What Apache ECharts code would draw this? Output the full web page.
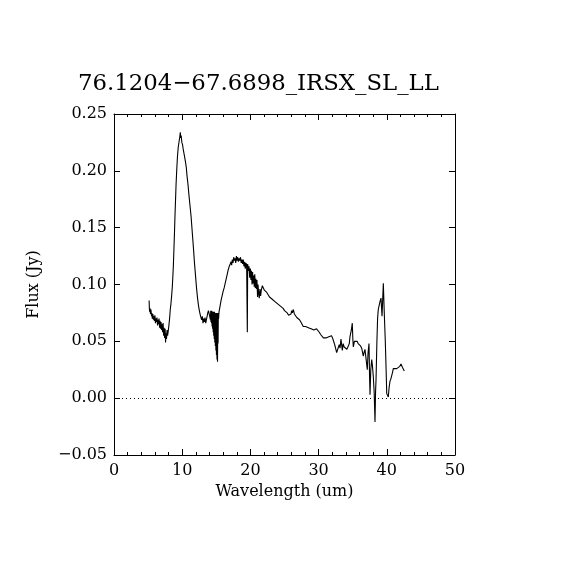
<!DOCTYPE html>
<html>
<head>
<meta charset="utf-8">
<script src="https://cdn.jsdelivr.net/npm/echarts@6/dist/echarts.min.js"></script>
<style>html,body{margin:0;padding:0;background:#fff}#c{width:570px;height:570px}</style>
</head>
<body>
<div id="c"></div>
<script>
var titleText = '76.1204\u221267.6898_IRSX_SL_LL';
var xName = 'Wavelength (um)';
var yName = 'Flux (Jy)';

var wavelength = [
5.15,5.18,5.22,5.28,5.35,5.42,5.50,5.56,5.62,5.70,5.78,5.85,5.92,6.00,6.08,6.15,6.22,6.30,6.38,6.45,
6.52,6.60,6.68,6.75,6.82,6.90,6.98,7.05,7.12,7.20,7.28,7.35,7.42,7.50,7.56,7.62,7.70,7.78,7.86,7.95,
8.05,8.15,8.25,8.35,8.45,8.55,8.62,8.70,8.78,8.86,8.94,9.02,9.10,9.20,9.30,9.42,9.55,9.65,9.72,9.78,
9.85,9.95,10.05,10.15,10.30,10.45,10.60,10.70,10.85,11.00,11.15,11.30,11.40,11.50,11.65,11.80,11.95,12.10,12.25,12.40,
12.55,12.70,12.85,12.95,13.05,13.15,13.25,13.35,13.45,13.55,13.65,13.75,13.85,13.95,14.05,
14.10,14.14,14.18,14.22,14.26,14.30,14.34,14.38,14.42,14.46,14.50,14.54,14.58,14.62,14.66,14.70,14.74,14.78,14.82,14.86,
14.90,14.94,14.98,15.02,15.06,15.10,15.14,15.18,15.22,15.26,15.30,15.34,15.40,
15.55,15.70,15.85,16.00,16.15,16.30,16.45,16.60,16.75,16.90,17.05,17.15,17.25,17.35,17.45,17.55,17.65,17.75,17.85,17.95,
18.05,18.15,18.25,18.35,18.45,18.55,18.65,18.75,18.85,18.95,19.05,19.15,19.25,19.35,19.45,19.55,19.60,19.70,19.80,19.90,
20.00,20.08,20.16,20.24,20.32,20.40,20.48,20.56,20.64,20.72,20.80,20.88,20.96,21.05,21.12,21.20,21.30,21.40,21.50,21.60,
21.75,21.90,22.05,22.20,22.40,22.60,22.80,23.00,23.20,23.40,23.60,23.80,24.00,24.20,24.40,24.60,24.80,25.00,25.20,25.40,
25.60,25.80,25.95,26.05,26.15,26.30,26.45,26.60,26.80,27.00,27.20,27.40,27.60,27.75,27.90,28.10,28.30,28.50,28.70,28.90,
29.10,29.30,29.50,29.70,29.90,30.10,30.30,30.50,30.70,30.90,31.10,31.30,31.50,31.70,31.90,32.10,32.26,32.45,32.65,32.80,
33.03,33.15,33.28,33.40,33.48,33.60,33.75,33.87,34.00,34.15,34.35,34.50,34.60,34.80,34.94,35.02,35.09,35.25,35.48,35.65,
35.80,35.97,36.15,36.32,36.45,36.55,36.70,36.80,36.95,37.14,37.25,37.39,37.47,37.54,37.65,37.79,37.90,38.02,38.15,38.27,
38.35,38.42,38.55,38.65,38.75,38.88,39.00,39.15,39.30,39.49,39.63,39.78,39.90,39.99,40.10,40.22,40.35,40.47,40.60,40.72,
40.85,40.95,41.20,41.45,41.69,41.90,42.08,42.30,42.57
];

var flux = [
0.086,0.080,0.076,0.079,0.074,0.078,0.072,0.075,0.070,0.074,0.069,0.072,0.068,0.073,0.066,0.070,0.067,0.071,0.064,0.069,
0.065,0.070,0.062,0.068,0.061,0.067,0.060,0.065,0.058,0.066,0.055,0.062,0.053,0.061,0.049,0.057,0.052,0.060,0.055,0.059,
0.064,0.070,0.078,0.083,0.090,0.098,0.106,0.116,0.130,0.144,0.160,0.174,0.188,0.201,0.212,0.221,0.226,0.230,0.234,0.229,
0.231,0.225,0.223,0.219,0.214,0.209,0.203,0.196,0.188,0.178,0.169,0.160,0.152,0.144,0.132,0.119,0.108,0.097,0.088,0.081,
0.076,0.072,0.069,0.072,0.066,0.070,0.067,0.071,0.066,0.069,0.072,0.075,0.077,0.076,0.078,
0.076,0.069,0.077,0.067,0.076,0.066,0.077,0.063,0.076,0.061,0.075,0.058,0.076,0.055,0.075,0.052,0.076,0.049,0.075,0.046,
0.074,0.042,0.075,0.038,0.074,0.034,0.075,0.032,0.074,0.048,0.075,0.070,0.076,
0.081,0.086,0.090,0.094,0.097,0.101,0.105,0.109,0.113,0.116,0.118,0.120,0.117,0.122,0.119,0.124,0.121,0.123,0.119,0.125,
0.121,0.124,0.120,0.123,0.121,0.124,0.119,0.122,0.118,0.122,0.116,0.120,0.114,0.119,0.117,0.058,0.118,0.112,0.116,0.106,
0.114,0.104,0.112,0.100,0.111,0.101,0.108,0.098,0.109,0.097,0.105,0.096,0.104,0.089,0.100,0.093,0.088,0.096,0.090,0.095,
0.099,0.097,0.095,0.094,0.093,0.091,0.089,0.088,0.087,0.086,0.085,0.084,0.083,0.082,0.081,0.080,0.079,0.077,0.076,0.075,
0.073,0.072,0.074,0.077,0.075,0.078,0.074,0.073,0.071,0.070,0.069,0.067,0.066,0.063,0.062,0.063,0.062,0.062,0.061,0.061,
0.062,0.060,0.060,0.061,0.060,0.058,0.056,0.055,0.053,0.054,0.053,0.054,0.054,0.053,0.055,0.052,0.049,0.045,0.040,0.043,
0.047,0.044,0.052,0.046,0.042,0.048,0.045,0.044,0.045,0.043,0.042,0.048,0.054,0.060,0.066,0.052,0.045,0.050,0.049,0.050,
0.048,0.048,0.046,0.044,0.040,0.037,0.041,0.043,0.035,0.025,0.040,0.048,0.020,0.003,0.025,0.034,0.028,0.019,0.005,-0.021,
0.005,0.016,0.050,0.070,0.078,0.079,0.085,0.088,0.072,0.101,0.075,0.050,0.025,0.004,0.003,0.001,0.010,0.015,0.017,0.018,
0.023,0.026,0.026,0.026,0.026,0.028,0.030,0.027,0.024
];

var seriesData = wavelength.map(function (w, i) { return [w, flux[i]]; });

var FONT = 'DejaVu Serif';
var chart = echarts.init(document.getElementById('c'), null, {renderer: 'canvas'});
var tickCommon = {show: true, inside: true, length: 6, lineStyle: {color: '#000', width: 1}};
var minorX = {show: true, splitNumber: 5, length: 3, lineStyle: {color: '#000', width: 1}};
var lineCommon = {show: true, onZero: false, lineStyle: {color: '#000', width: 1}};

chart.setOption({
  animation: false,
  backgroundColor: '#fff',
  title: {
    text: titleText, left: 73, top: 68,
    textStyle: {fontFamily: FONT, fontSize: 22.8, fontWeight: 'normal', color: '#000'}
  },
  grid: {left: 114, right: 115, top: 114, bottom: 115, show: false},
  xAxis: [{
    type: 'value', min: 0, max: 50, interval: 10, position: 'bottom',
    name: xName, nameLocation: 'middle', nameGap: 28,
    nameTextStyle: {fontFamily: FONT, fontSize: 16, color: '#000'},
    axisLine: lineCommon, axisTick: tickCommon, minorTick: minorX,
    splitLine: {show: false}, minorSplitLine: {show: false},
    axisLabel: {fontFamily: FONT, fontSize: 16, color: '#000', margin: 8}
  }, {
    type: 'value', min: 0, max: 50, interval: 10, position: 'top',
    axisLine: lineCommon, axisTick: tickCommon, minorTick: minorX,
    splitLine: {show: false}, axisLabel: {show: false}
  }],
  yAxis: [{
    type: 'value', min: -0.05, max: 0.25, interval: 0.05, position: 'left',
    name: yName, nameLocation: 'middle', nameGap: 72, nameRotate: 90,
    nameTextStyle: {fontFamily: FONT, fontSize: 16, color: '#000'},
    axisLine: lineCommon, axisTick: tickCommon,
    splitLine: {show: false},
    axisLabel: {
      fontFamily: FONT, fontSize: 16, color: '#000', margin: 7,
      formatter: function (v) { return (Math.round(v * 100) / 100).toFixed(2).replace('-', '\u2212'); }
    }
  }, {
    type: 'value', min: -0.05, max: 0.25, interval: 0.05, position: 'right',
    axisLine: lineCommon, axisTick: tickCommon,
    splitLine: {show: false}, axisLabel: {show: false}
  }],
  series: [{
    type: 'line', xAxisIndex: 0, yAxisIndex: 0,
    data: seriesData, showSymbol: false, symbol: 'none',
    lineStyle: {color: '#000', width: 1.1}, silent: true,
    markLine: {
      silent: true, symbol: 'none', label: {show: false},
      lineStyle: {color: '#000', width: 1, type: [1, 3]},
      data: [{yAxis: 0}]
    }
  }]
});
</script>
</body>
</html>
